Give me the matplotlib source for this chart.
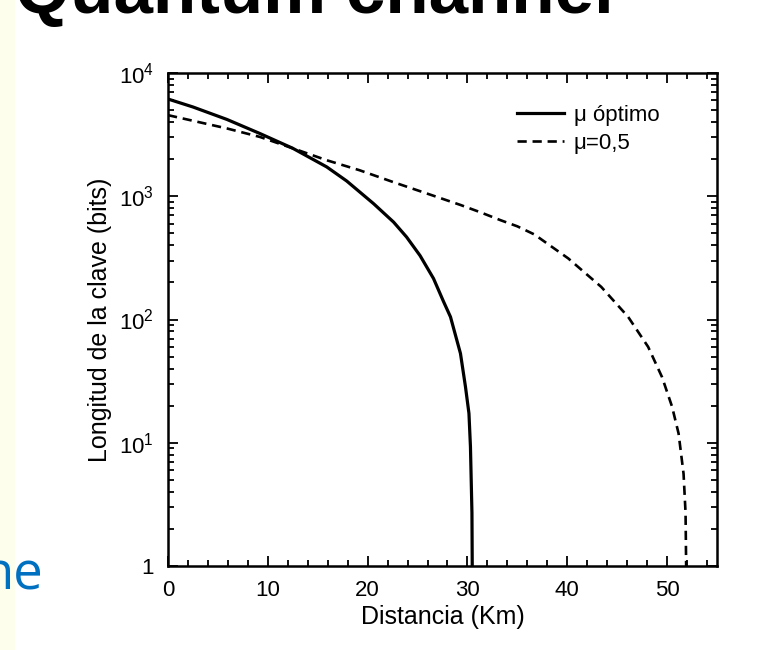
import numpy as np
import matplotlib
matplotlib.use("Agg")
import matplotlib.pyplot as plt
from matplotlib.ticker import MultipleLocator, LogLocator, NullFormatter

plt.rcParams['font.family'] = ['Liberation Sans', 'DejaVu Sans']
plt.rcParams['mathtext.fontset'] = 'custom'
plt.rcParams['mathtext.rm'] = 'Liberation Sans'

# curves
opt_x = [0, 2.5, 5.9, 9.2, 12.5, 15.9, 17.9, 20.6, 22.6, 23.9, 25.25, 26.6, 27.6, 28.3,
         29.3, 29.8, 30.15, 30.3, 30.45, 30.5]
opt_y = [6150, 5300, 4200, 3230, 2450, 1730, 1330, 870, 617, 467, 330, 215, 140, 105,
         53, 28.5, 17.3, 9.3, 2.7, 0.5]

half_x = [0, 5.9, 9.2, 12.5, 15.9, 19.2, 22.6, 25.9, 29.3, 31.3, 33.3, 35, 36.7, 40.1, 43.4,
          46.1, 48.1, 49.5, 50.5, 51.15, 51.65, 51.85, 51.95]
half_y = [4550, 3550, 3030, 2450, 1960, 1625, 1300, 1055, 850, 741, 640, 570, 490, 313, 184,
          105, 60, 34, 19.6, 11.9, 5.6, 2.7, 0.5]

labels = ["\u03bc \u00f3ptimo", "\u03bc=0,5"]
xticks = [0, 10, 20, 30, 40, 50]
yticks = [1, 10, 100, 1000, 10000]
ytick_labels = ["1", r"$\mathregular{10^1}$", r"$\mathregular{10^2}$", r"$\mathregular{10^3}$", r"$\mathregular{10^4}$"]

fig = plt.figure(figsize=(7.69, 6.5), dpi=100)
fig.patch.set_facecolor("white")

# slide background bits
fig.patches.append(plt.Rectangle((0, 0), 15/769, 1, transform=fig.transFigure,
                                 facecolor="#FEFEEC", edgecolor="none", zorder=0))
fig.text(15/769, 1 - 13/650, "Quantum channel", fontsize=51, fontweight="bold",
         color="black", ha="left", va="baseline")
fig.text(43/769, 1 - 590/650, "ne", fontsize=38, color="#0070C0",
         ha="right", va="baseline", family=["Open Sans", "DejaVu Sans"])

ax = fig.add_axes([168/769, 1 - 566/650, 549/769, 493/650])
ax.plot(opt_x, opt_y, color="black", lw=2.3, label=labels[0])
ax.plot(half_x, half_y, color="black", lw=1.9, dashes=(3.5, 2.2), label=labels[1])

ax.set_yscale("log")
ax.set_xlim(0, 55)
ax.set_ylim(1, 1e4)
ax.set_xticks(xticks)
ax.xaxis.set_minor_locator(MultipleLocator(2))
ax.set_yticks(yticks)
ax.set_yticklabels(ytick_labels)
ax.yaxis.set_minor_locator(LogLocator(base=10, subs=np.arange(2, 10)))
ax.yaxis.set_minor_formatter(NullFormatter())

ax.tick_params(which="both", direction="in", top=True, right=True, width=1.3, colors="black")
ax.tick_params(which="major", length=7, labelsize=16, pad=10)
ax.tick_params(which="minor", length=4)
for s in ax.spines.values():
    s.set_linewidth(1.8)

ax.set_xlabel("Distancia (Km)", fontsize=18, labelpad=3)
ax.set_ylabel("Longitud de la clave (bits)", fontsize=18, labelpad=5)

ax.legend(loc="upper left", bbox_to_anchor=(0.636, 0.935), frameon=False, fontsize=16,
          handlelength=2.1, handletextpad=0.45, labelspacing=0.3,
          borderpad=0, borderaxespad=0)

plt.savefig("out.png", dpi=100)
